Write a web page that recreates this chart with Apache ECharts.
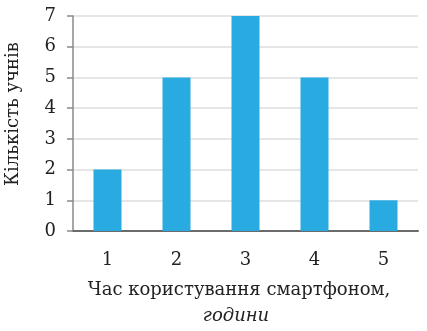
<!DOCTYPE html>
<html>
<head>
<meta charset="utf-8">
<script src="https://cdn.jsdelivr.net/npm/echarts@6/dist/echarts.min.js"></script>
<style>
  html, body { margin: 0; padding: 0; background: #fff; }
  #chart { width: 427px; height: 331px; }
</style>
</head>
<body>
<div id="chart"></div>
<script>
// години користування смартфоном
var hours = ['1', '2', '3', '4', '5']
// кількість учнів
var pupils = [2, 5, 7, 5, 1]
var yTicks = [0, 1, 2, 3, 4, 5, 6, 7]

var font = 'DejaVu Serif'
var myChart = echarts.init(document.getElementById('chart'))

var option = {
  animation: false,
  grid: {
    left: 73,
    right: 9,
    top: 16,
    bottom: 100
  },
  xAxis: {
    type: 'category',
    data: hours,
    axisTick: { show: false },
    axisLine: {
      lineStyle: { color: '#6b6b6b', width: 2 }
    },
    axisLabel: {
      color: '#222',
      fontFamily: font,
      fontSize: 18,
      margin: 20
    }
  },
  yAxis: {
    type: 'value',
    min: yTicks[0],
    max: yTicks[yTicks.length - 1],
    interval: 1,
    axisLine: {
      show: true,
      lineStyle: { color: '#8a8a8a', width: 1.5 }
    },
    axisTick: {
      show: true,
      length: 6,
      lineStyle: { color: '#8a8a8a', width: 1.5 }
    },
    splitLine: {
      lineStyle: { color: '#dedede', width: 1.5 }
    },
    axisLabel: {
      color: '#222',
      fontFamily: font,
      fontSize: 18,
      margin: 17
    }
  },
  graphic: [
    {
      type: 'text',
      x: 13,
      y: 114,
      rotation: Math.PI / 2,
      style: {
        text: 'Кількість учнів',
        font: '18px "DejaVu Serif"',
        fill: '#222',
        align: 'center',
        verticalAlign: 'middle'
      }
    },
    {
      type: 'text',
      x: 239,
      y: 290,
      style: {
        text: 'Час користування смартфоном,',
        font: '18px "DejaVu Serif"',
        fill: '#222',
        align: 'center',
        verticalAlign: 'middle'
      }
    },
    {
      type: 'text',
      x: 236,
      y: 316,
      style: {
        text: 'години',
        font: 'italic 18px "DejaVu Serif"',
        fill: '#222',
        align: 'center',
        verticalAlign: 'middle'
      }
    }
  ],
  series: [
    {
      type: 'bar',
      data: pupils,
      barWidth: 28,
      itemStyle: { color: '#29abe2' }
    }
  ]
}

myChart.setOption(option)
</script>
</body>
</html>
